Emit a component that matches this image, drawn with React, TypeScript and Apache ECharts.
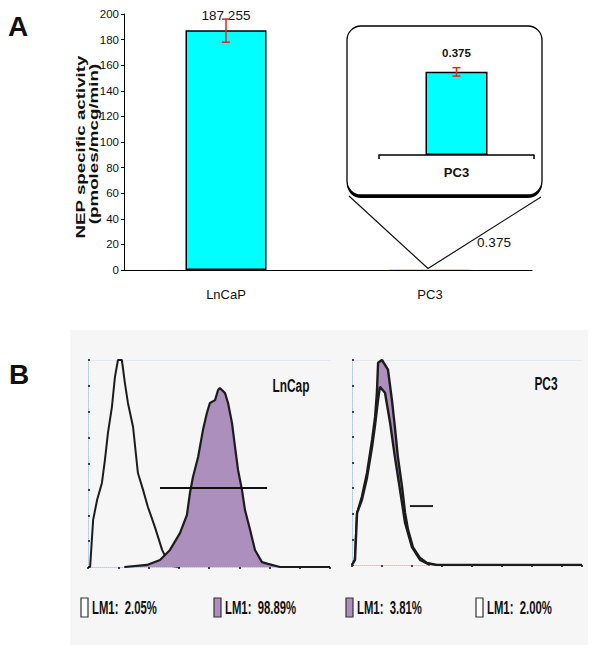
import React, { useEffect, useRef } from "react";
import * as echarts from "echarts";

// ---------- Panel A data ----------
const mainCategories = ["LnCaP", "PC3"];
const mainValues = [187.255, 0.375];
const mainErrors = [[0, 178, 196]]; // [categoryIndex, low, high]
const insetCategories = ["PC3"];
const insetValues = [0.375];
const insetErrors = [[0, 0.355, 0.393]];

// ---------- Panel B data (fluorescence channel, counts; arbitrary units) ----------
const lncapControl = [
  [0, 0], [0.07, 0], [0.17, 1.82], [0.3, 2.59], [0.46, 3.25], [0.56, 4.14], [0.66, 5.18],
  [0.79, 6.18], [0.89, 7.34], [0.99, 8.0], [1.12, 8.0], [1.22, 7.11], [1.32, 6.34],
  [1.49, 5.41], [1.65, 3.63], [1.82, 2.98], [1.98, 2.32], [2.21, 1.55], [2.45, 0.66],
  [2.61, 0.27], [2.78, 0.04], [3.04, 0],
];
const lncapStained = [
  [1.2, 0], [1.95, 0.08], [2.38, 0.27], [2.71, 0.66], [3.04, 1.31], [3.27, 2.01], [3.37, 2.86],
  [3.47, 3.48], [3.64, 4.25], [3.8, 5.29], [3.93, 5.95], [4.03, 6.34], [4.2, 6.45],
  [4.3, 6.84], [4.36, 6.92], [4.53, 6.72], [4.63, 6.34], [4.76, 5.57], [4.86, 4.64],
  [4.96, 3.75], [5.09, 2.98], [5.19, 2.2], [5.36, 1.43], [5.52, 0.66], [5.75, 0.19],
  [5.95, 0.12], [6.35, 0], [8, 0],
];
const lncapGate = [[2.38, 3.05], [5.92, 3.05]];

const pc3Stained = [
  [0, 0], [0.1, 0.2], [0.17, 2.03], [0.33, 2.66], [0.5, 3.59], [0.67, 4.88], [0.77, 5.78],
  [0.83, 6.72], [0.87, 7.89], [1.0, 8.0], [1.1, 7.81], [1.2, 7.62], [1.33, 6.45],
  [1.43, 5.39], [1.53, 4.22], [1.67, 3.05], [1.77, 2.03], [1.87, 1.37], [2.03, 0.7],
  [2.27, 0.27], [2.5, 0.08], [2.83, 0], [7.67, 0],
];
const pc3Control = [
  [0, 0], [0.1, 0.2], [0.17, 2.03], [0.33, 2.54], [0.5, 3.4], [0.67, 4.61], [0.77, 5.47],
  [0.87, 6.45], [0.93, 6.95], [1.1, 6.72], [1.27, 5.55], [1.43, 4.22], [1.6, 2.93],
  [1.77, 1.64], [2.0, 0.7], [2.27, 0.2], [2.6, 0],
];
const pc3Gate = [[1.93, 2.3], [2.7, 2.3]];

const lncapLegend = ["LM1:  2.05%", "LM1:  98.89%"];
const pc3Legend = ["LM1:  3.81%", "LM1:  2.00%"];

const SANS = "'Liberation Sans', Arial, sans-serif";
const PURPLE = "#ad8fbd";
const CURVE = "#1c1c1c";
const PANEL_BG = "#f6f6f6";

function errorRenderer(capHalf: number) {
  return (params: any, api: any) => {
    const c = api.value(0);
    const lo = api.coord([c, api.value(1)]);
    const hi = api.coord([c, api.value(2)]);
    const st = { stroke: "#e8251f", lineWidth: 1.5 };
    return {
      type: "group",
      children: [
        { type: "line", shape: { x1: lo[0], y1: lo[1], x2: hi[0], y2: hi[1] }, style: st },
        { type: "line", shape: { x1: lo[0] - capHalf, y1: lo[1], x2: lo[0] + capHalf, y2: lo[1] }, style: st },
        { type: "line", shape: { x1: hi[0] - capHalf, y1: hi[1], x2: hi[0] + capHalf, y2: hi[1] }, style: st },
      ],
    };
  };
}

function txt(id: string, x: number, y: number, text: string, size: number, weight: string, family: string, align: string, extra: any = {}) {
  return {
    type: "text",
    id,
    x,
    y,
    ...extra,
    style: {
      text,
      fill: "#111",
      fontSize: size,
      fontWeight: weight,
      fontFamily: family,
      font: `${weight} ${size}px ${family}`,
      align,
      verticalAlign: "middle",
      textAlign: align,
      textVerticalAlign: "middle",
    },
  };
}

export default function App() {
  const ref = useRef<HTMLDivElement>(null);
  useEffect(() => {
    if (!ref.current) return;
    const chart = echarts.init(ref.current, undefined, { renderer: "svg" });

    const histX = (grid: number, max: number) => ({
      type: "value",
      gridIndex: grid,
      min: 0,
      max,
      interval: 1,
      axisLine: { show: true, onZero: false, lineStyle: { color: "#b3cde6", type: "dotted", width: 1 } },
      axisTick: { show: true, length: 2, lineStyle: { color: "#3b3f55", width: 2 } },
      axisLabel: { show: false },
      splitLine: { show: false },
    });
    const histTop = (grid: number) => ({
      type: "value",
      gridIndex: grid,
      position: "top",
      min: 0,
      max: 1,
      axisLine: { show: true, onZero: false, lineStyle: { color: "#e2e8ef", width: 1 } },
      axisTick: { show: false },
      axisLabel: { show: false },
      splitLine: { show: false },
    });
    const histY = (grid: number) => ({
      type: "value",
      gridIndex: grid,
      min: 0,
      max: 8,
      interval: 1,
      axisLine: { show: true, onZero: false, lineStyle: { color: "#a9c9e8", type: "dotted", width: 1 } },
      axisTick: { show: true, inside: true, length: 2, lineStyle: { color: "#3b3f55", width: 2 } },
      axisLabel: { show: false },
      splitLine: { show: false },
    });

    const legendItems = (xs: number[], labels: string[], filled: boolean[], prefix: string) => {
      const out: any[] = [];
      labels.forEach((label, i) => {
        out.push({
          type: "rect",
          id: `${prefix}sw${i}`,
          shape: { x: xs[i], y: 598, width: 7, height: 19 },
          style: { fill: filled[i] ? PURPLE : "#fff", stroke: "#333", lineWidth: 1.2 },
        });
        out.push(txt(`${prefix}tx${i}`, xs[i] + 11, 607.5, label, 18, "bold", SANS, "left", { scaleX: 0.63 }));
      });
      return out;
    };

    const option: any = {
      animation: false,
      backgroundColor: "#ffffff",
      grid: [
        { left: 124, top: 14, width: 408, height: 256 },
        { left: 379, top: 55, width: 155, height: 100 },
        { left: 88, top: 360, width: 242, height: 207 },
        { left: 352, top: 360, width: 230, height: 205 },
      ],
      xAxis: [
        {
          type: "category",
          gridIndex: 0,
          data: mainCategories,
          axisLine: { lineStyle: { color: "#000", width: 1 } },
          axisTick: { length: 5, lineStyle: { color: "#000" } },
          axisLabel: { color: "#111", fontSize: 13, fontFamily: SANS, margin: 18 },
        },
        {
          type: "category",
          gridIndex: 1,
          data: insetCategories,
          axisLine: { lineStyle: { color: "#000", width: 1.5 } },
          axisTick: { show: true, interval: 0, length: 4, lineStyle: { color: "#000", width: 1.5 } },
          axisLabel: { color: "#111", fontSize: 13, fontWeight: "bold", fontFamily: SANS, margin: 11 },
        },
        histX(2, 8),
        histTop(2),
        histX(3, 7.67),
        histTop(3),
      ],
      yAxis: [
        {
          type: "value",
          gridIndex: 0,
          min: 0,
          max: 200,
          interval: 20,
          axisLine: { show: true, lineStyle: { color: "#000", width: 1 } },
          axisTick: { show: true, length: 3, lineStyle: { color: "#000" } },
          axisLabel: { color: "#111", fontSize: 11.5, fontFamily: SANS, margin: 5 },
          splitLine: { show: false },
        },
        { type: "value", gridIndex: 1, min: 0, max: 0.45, show: false },
        histY(2),
        histY(3),
      ],
      series: [
        {
          type: "bar",
          xAxisIndex: 0,
          yAxisIndex: 0,
          barWidth: 81,
          data: mainValues.map((v, i) => ({
            value: v,
            label: i === 1 ? { offset: [64, -12] } : {},
            itemStyle: i === 1 ? { borderWidth: 0 } : {},
          })),
          itemStyle: { color: "#00ffff", borderColor: "#000", borderWidth: 1.5 },
          label: {
            show: true,
            position: "top",
            distance: 8,
            color: "#111",
            fontSize: 13.5,
            fontFamily: SANS,
          },
          z: 2,
        },
        {
          type: "custom",
          xAxisIndex: 0,
          yAxisIndex: 0,
          data: mainErrors,
          renderItem: errorRenderer(4),
          z: 5,
        },
        {
          type: "bar",
          xAxisIndex: 1,
          yAxisIndex: 1,
          barWidth: 62,
          data: insetValues,
          itemStyle: { color: "#00ffff", borderColor: "#000", borderWidth: 1.5 },
          label: {
            show: true,
            position: "top",
            distance: 13,
            color: "#111",
            fontSize: 11.5,
            fontWeight: "bold",
            fontFamily: SANS,
          },
          z: 3,
        },
        {
          type: "custom",
          xAxisIndex: 1,
          yAxisIndex: 1,
          data: insetErrors,
          renderItem: errorRenderer(4),
          z: 6,
        },
        {
          type: "line",
          xAxisIndex: 2,
          yAxisIndex: 2,
          data: lncapControl,
          showSymbol: false,
          lineStyle: { color: CURVE, width: 2 },
          areaStyle: { color: PANEL_BG, opacity: 1 },
          z: 3,
        },
        {
          type: "line",
          xAxisIndex: 2,
          yAxisIndex: 2,
          data: lncapStained,
          showSymbol: false,
          lineStyle: { color: CURVE, width: 2.2 },
          areaStyle: { color: PURPLE, opacity: 1 },
          z: 4,
        },
        {
          type: "line",
          xAxisIndex: 2,
          yAxisIndex: 2,
          data: lncapGate,
          showSymbol: false,
          lineStyle: { color: "#111", width: 2 },
          z: 5,
        },
        {
          type: "line",
          xAxisIndex: 4,
          yAxisIndex: 3,
          data: pc3Stained,
          showSymbol: false,
          lineStyle: { color: CURVE, width: 2.4 },
          areaStyle: { color: PURPLE, opacity: 1 },
          z: 3,
        },
        {
          type: "line",
          xAxisIndex: 4,
          yAxisIndex: 3,
          data: pc3Control,
          showSymbol: false,
          lineStyle: { color: CURVE, width: 2.4 },
          areaStyle: { color: PANEL_BG, opacity: 1 },
          z: 4,
        },
        {
          type: "line",
          xAxisIndex: 4,
          yAxisIndex: 3,
          data: pc3Gate,
          showSymbol: false,
          lineStyle: { color: "#222", width: 2 },
          z: 5,
        },
      ],
      graphic: [
        {
          type: "rect",
          id: "bgB",
          z: -10,
          shape: { x: 70, y: 330, width: 518, height: 315 },
          style: { fill: PANEL_BG },
        },
        {
          type: "rect",
          id: "insetShadow",
          z: -6,
          shape: { x: 347, y: 29, width: 195, height: 169, r: 14 },
          style: { fill: "#000" },
        },
        {
          type: "rect",
          id: "insetBox",
          z: -5,
          shape: { x: 347, y: 26, width: 195, height: 169, r: 14 },
          style: { fill: "#fff", stroke: "#000", lineWidth: 1.3 },
        },
        txt("ttl1", 81, 147, "NEP specific activity", 12.5, "bold", SANS, "center", { rotation: Math.PI / 2, scaleX: 1.5 }),
        txt("ttl2", 94, 144, "(pmoles/mcg/min)", 12.5, "bold", SANS, "center", { rotation: Math.PI / 2, scaleX: 1.5 }),
        txt("lblA", 8, 26, "A", 28, "bold", SANS, "left"),
        txt("lblB", 9, 374, "B", 28, "bold", SANS, "left"),
        txt("lblLn", 291, 386, "LnCap", 18, "bold", SANS, "center", { scaleX: 0.66 }),
        txt("lblPc", 546, 384, "PC3", 18, "bold", SANS, "center", { scaleX: 0.66 }),
        ...legendItems([81, 214], lncapLegend, [false, true], "L"),
        ...legendItems([346, 476], pc3Legend, [true, false], "R"),
      ],
    };

    chart.setOption(option);

    const apex = chart.convertToPixel({ xAxisIndex: 0, yAxisIndex: 0 } as any, [mainCategories[1], mainValues[1]]) as number[];
    chart.setOption({
      graphic: [
        {
          type: "polyline",
          id: "callout",
          z: -4,
          shape: { points: [[349, 196], [apex[0] - 2, apex[1] - 1], [541, 197]] },
          style: { stroke: "#111", lineWidth: 1.2, fill: null },
        },
      ],
    });

    return () => chart.dispose();
  }, []);

  return (
    <div
      ref={ref}
      style={{ position: "absolute", left: 0, top: 0, width: 600, height: 660 }}
    />
  );
}
